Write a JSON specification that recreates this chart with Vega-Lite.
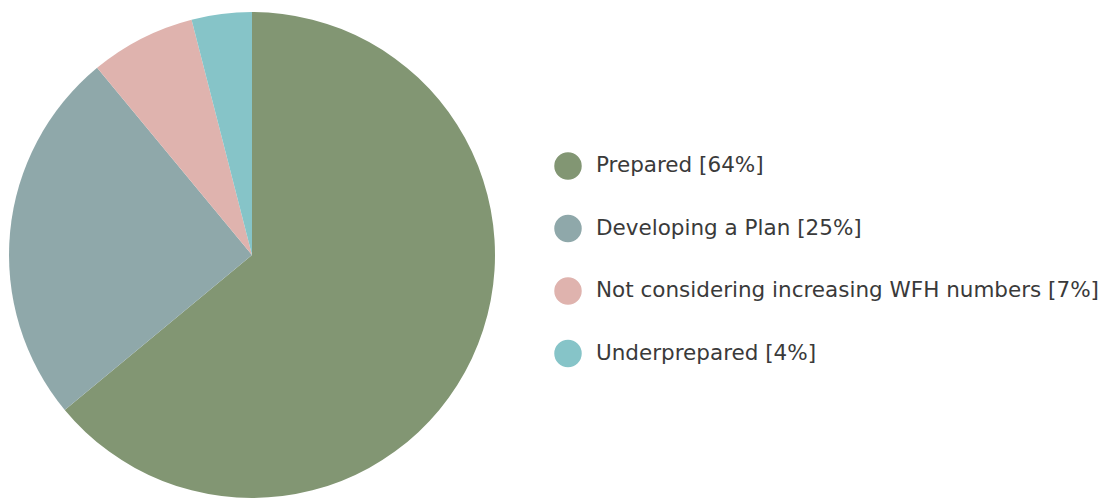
{
  "$schema": "https://vega.github.io/schema/vega-lite/v6.json",
  "width": 504,
  "height": 486,
  "padding": {"left": 0, "top": 12, "right": 0, "bottom": 0},
  "background": "white",
  "data": {
    "values": [
      {"category": "Prepared [64%]", "value": 64, "rank": 1},
      {"category": "Developing a Plan [25%]", "value": 25, "rank": 2},
      {"category": "Not considering increasing WFH numbers [7%]", "value": 7, "rank": 3},
      {"category": "Underprepared [4%]", "value": 4, "rank": 4}
    ]
  },
  "mark": {"type": "arc", "radius": 243, "stroke": null},
  "encoding": {
    "theta": {"field": "value", "type": "quantitative", "stack": true},
    "order": {"field": "rank", "type": "quantitative"},
    "color": {
      "field": "category",
      "type": "nominal",
      "scale": {
        "domain": ["Prepared [64%]", "Developing a Plan [25%]", "Not considering increasing WFH numbers [7%]", "Underprepared [4%]"],
        "range": ["#829673", "#8fa8aa", "#dfb3ae", "#86c4c8"]
      },
      "legend": {
        "title": null,
        "orient": "none",
        "legendX": 554,
        "legendY": 140,
        "symbolType": "circle",
        "symbolSize": 755,
        "symbolStrokeWidth": 0,
        "labelFontSize": 21.5,
        "labelFont": "DejaVu Sans",
        "labelColor": "#3a3a3a",
        "labelOffset": 14,
        "labelLimit": 600,
        "rowPadding": 34.5
      }
    }
  },
  "config": {"view": {"stroke": null}}
}
